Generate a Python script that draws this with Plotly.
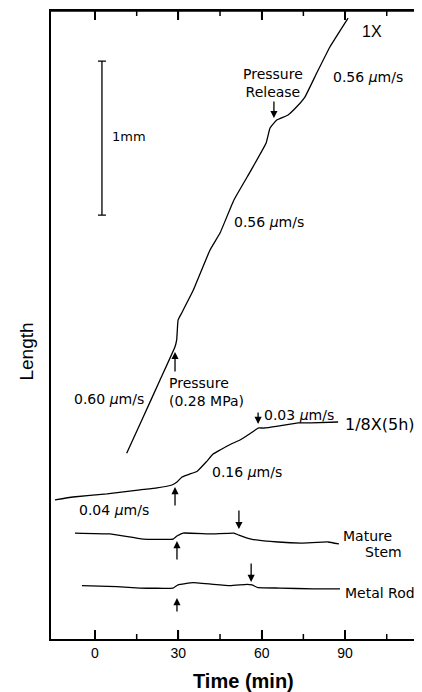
import plotly.graph_objects as go

# ---- data (time in min, length in mm, arbitrary offsets per trace) ----
t_1x = [11.4, 17.4, 23.4, 28.8, 29.4, 29.9, 31.2, 35.4, 41.4, 45.0, 50.0, 56.2,
        61.6, 63.0, 65.4, 69.5, 72.6, 75.6, 79.8, 84.6, 91.1]
L_1x = [1.206, 1.443, 1.682, 1.898, 1.942, 2.071, 2.117, 2.266, 2.526, 2.636, 2.851, 3.045,
        3.221, 3.318, 3.370, 3.403, 3.456, 3.521, 3.675, 3.846, 4.032]

t_8x = [-14.4, -7.9, 4.3, 16.2, 22.3, 27.7, 29.5, 31.3, 33.6, 36.7, 40.0, 42.5, 45.0,
        49.0, 52.2, 57.2, 58.7, 60.8, 65.9, 73.1, 77.8, 87.5]
L_8x = [0.903, 0.922, 0.942, 0.968, 0.981, 1.000, 1.019, 1.052, 1.068, 1.088, 1.149, 1.201, 1.227,
        1.266, 1.292, 1.351, 1.370, 1.370, 1.383, 1.403, 1.403, 1.409]

t_stem = [-7.2, 5.4, 17.3, 28.1, 29.5, 31.7, 41.8, 50.0, 51.8, 56.2, 65.9, 74.2, 83.9, 87.8]
L_stem = [0.688, 0.682, 0.649, 0.649, 0.669, 0.688, 0.682, 0.688, 0.675, 0.649, 0.630, 0.623, 0.630, 0.617]

t_rod = [-4.7, 7.9, 16.2, 28.1, 29.9, 35.3, 48.6, 54.7, 56.5, 58.7, 66.6, 78.5, 88.2]
L_rod = [0.346, 0.340, 0.331, 0.331, 0.351, 0.366, 0.346, 0.355, 0.351, 0.333, 0.331, 0.325, 0.325]

x_ticks = [0, 30, 60, 90]
x_tick_labels = ["0", "30", "60", "90"]
x_minor_ticks = [15, 45, 75, 105]

scale_bar_mm = 1.0

INK = "black"
SMALL = "DejaVu Sans"
MAIN = "Liberation Sans, Arial, sans-serif"

W, H = 414, 684
M = dict(l=43, r=0, t=3, b=53)
X_RANGE = [-15.84, 117.7]
Y_RANGE = [0, 4.078]
mm_per_px = (Y_RANGE[1] - Y_RANGE[0]) / (H - M["t"] - M["b"])
MAJOR_LEN = 9 * mm_per_px
MINOR_LEN = 5 * mm_per_px

fig = go.Figure()
for tx, ly in [(t_1x, L_1x), (t_8x, L_8x), (t_stem, L_stem), (t_rod, L_rod)]:
    fig.add_trace(go.Scatter(x=tx, y=ly, mode="lines",
                             line=dict(color=INK, width=1.3, shape="spline", smoothing=0.3),
                             hoverinfo="skip", showlegend=False))

# 1 mm scale bar
fig.add_trace(go.Scatter(x=[2.5], y=[2.753 + scale_bar_mm / 2], mode="markers",
                         marker=dict(size=0.1, color=INK),
                         error_y=dict(type="constant", value=scale_bar_mm / 2, color=INK,
                                      thickness=1.3, width=4),
                         hoverinfo="skip", showlegend=False))

# top frame line (mirror of the time axis)
fig.add_trace(go.Scatter(x=X_RANGE, y=[Y_RANGE[1]] * 2, mode="lines",
                         line=dict(color=INK, width=1.5), cliponaxis=False,
                         hoverinfo="skip", showlegend=False))

# inward tick marks on bottom and top axes
def tick_trace(vals, length, top):
    n = len(vals)
    return go.Scatter(
        x=vals, y=[Y_RANGE[1] if top else Y_RANGE[0]] * n, mode="markers",
        marker=dict(size=1, color=INK),
        error_y=dict(type="data", symmetric=False,
                     array=[0 if top else length] * n,
                     arrayminus=[length if top else 0] * n,
                     color=INK, thickness=1.5, width=0),
        cliponaxis=False, hoverinfo="skip", showlegend=False)

for top in (False, True):
    fig.add_trace(tick_trace(x_ticks, MAJOR_LEN, top))
    fig.add_trace(tick_trace(x_minor_ticks, MINOR_LEN, top))

ann = []

def txt(x, y, s, size=14, xanchor="center", font=SMALL, align="center"):
    ann.append(dict(x=x, y=y, xref="x", yref="y", text=s, showarrow=False,
                    xanchor=xanchor, yanchor="middle", align=align,
                    font=dict(family=font, size=size, color=INK)))

def arrow(x, y, ay):
    ann.append(dict(x=x, y=y, xref="x", yref="y", text="", showarrow=True,
                    ax=0, ay=ay, arrowhead=2, arrowsize=1.1, arrowwidth=1.3,
                    arrowcolor=INK, standoff=0))

mu = "<i>μ</i>m/s"
txt(5.4, 3.266, "1mm", size=13, xanchor="left")
txt(99.7, 3.942, "1X", size=16, font=MAIN)
txt(98.3, 3.649, "0.56 " + mu)
txt(64.1, 3.610, "Pressure<br>Release")
txt(62.6, 2.708, "0.56 " + mu)
txt(25.9, 1.604, "Pressure<br>(0.28 MPa)", xanchor="left", align="left")
txt(5.0, 1.558, "0.60 " + mu)
txt(89.3, 1.396, "1/8X(5h)", size=16, xanchor="left")
txt(73.4, 1.455, "0.03 " + mu)
txt(54.7, 1.084, "0.16 " + mu)
txt(6.8, 0.838, "0.04 " + mu)
txt(88.6, 0.669, "Mature", xanchor="left")
txt(96.5, 0.565, "Stem", xanchor="left")
txt(89.3, 0.299, "Metal Rod", xanchor="left")

arrow(28.8, 1.864, 21)
arrow(64.4, 3.383, -18)
arrow(28.8, 0.987, 20)
arrow(58.7, 1.396, -13)
arrow(29.5, 0.636, 20)
arrow(51.8, 0.714, -20)
arrow(29.5, 0.266, 15)
arrow(56.2, 0.370, -20)

# axis titles
ann.append(dict(x=53.6, y=-0.067, xref="x", yref="paper", text="<b>Time (min)</b>",
                showarrow=False, xanchor="center", yanchor="middle",
                font=dict(family=MAIN, size=20, color=INK)))
ann.append(dict(x=-0.067, y=0.458, xref="paper", yref="paper", text="Length",
                showarrow=False, textangle=-90, xanchor="center", yanchor="middle",
                font=dict(family=MAIN, size=19, color=INK)))

# the page body adds an 8px offset, so the figure is sized to end at the window edge
fig.update_layout(
    width=W, height=H,
    margin=M,
    paper_bgcolor="white", plot_bgcolor="white",
    annotations=ann,
    showlegend=False,
    xaxis=dict(range=X_RANGE, showgrid=False, zeroline=False,
               showline=True, linecolor=INK, linewidth=1.5, mirror="ticks",
               ticks="inside", ticklen=9, tickwidth=1.5, tickcolor=INK,
               tickmode="array", tickvals=x_ticks, ticktext=x_tick_labels,
               tickfont=dict(family=MAIN, size=14, color=INK)),
    yaxis=dict(range=Y_RANGE, showgrid=False, zeroline=False,
               showline=True, linecolor=INK, linewidth=1.5, mirror=False,
               ticks="", showticklabels=False),
)

fig.write_html("out.html")
